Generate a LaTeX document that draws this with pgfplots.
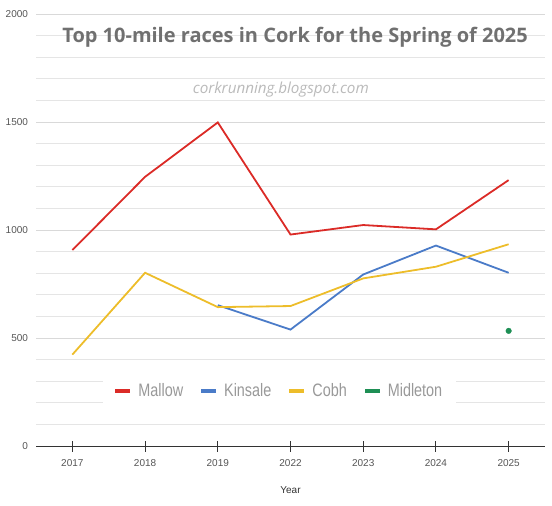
\documentclass[border=0pt]{standalone}
\usepackage{fontspec}
\setmainfont{Liberation Sans}
\newfontfamily\titlefont{Open Sans}
\newfontfamily\legendfont[FakeStretch=0.8]{Liberation Sans}
\usepackage{pgfplots}
\pgfplotsset{compat=1.18}
\usetikzlibrary{calc}
\definecolor{cMallow}{HTML}{DB2B27}
\definecolor{cKinsale}{HTML}{4A7BC8}
\definecolor{cCobh}{HTML}{EDBD2A}
\definecolor{cMidleton}{HTML}{1E8F55}
\definecolor{tickgray}{HTML}{555555}
\begin{document}
\begin{tikzpicture}
\begin{axis}[
  scale only axis,
  width=509bp, height=432bp,
  xmin=-0.5, xmax=6.5, ymin=0, ymax=2000,
  xtick={0,1,2,3,4,5,6},
  xticklabels={2017,2018,2019,2022,2023,2024,2025},
  ytick={0,500,1000,1500,2000},
  minor ytick={100,200,300,400,600,700,800,900,1100,1200,1300,1400,1600,1700,1800,1900},
  ymajorgrids, yminorgrids,
  major grid style={draw=black!15, line width=0.8bp},
  minor grid style={draw=black!10, line width=0.8bp},
  axis x line*=bottom, axis y line*=left,
  x axis line style={draw=black!80, line width=1bp, -},
  y axis line style={draw=none},
  ytick style={draw=none},
  minor y tick style={draw=none},
  xtick style={draw=black!80, line width=1bp},
  tick align=center,
  major tick length=11bp,
  /pgf/number format/assume math mode=true,
  /pgf/number format/set thousands separator={},
  ticklabel style={font=\fontsize{10bp}{12bp}\selectfont, text=tickgray},
  yticklabel style={xshift=1bp},
  xticklabel style={yshift=-4bp},
  xlabel={Year},
  xlabel style={font=\fontsize{10bp}{12bp}\selectfont, text=black!80, yshift=-14bp},
  legend columns=4,
  legend style={at={(rel axis cs:0.479,0.127)}, anchor=center, draw=none, fill=white,
    font=\legendfont\fontsize{18bp}{19bp}\selectfont, text=black!40,
    inner xsep=12bp, inner ysep=4bp,
    /tikz/every even column/.append style={column sep=16bp}},
  legend image code/.code={\fill[#1] (0bp,-2bp) rectangle (15bp,2bp); \path (21bp,0bp);},
  clip=false,
]
\addplot[cMallow, line width=1.8bp, forget plot] coordinates {
  (0,907) (1,1246) (2,1498) (3,979) (4,1023) (5,1003) (6,1231)};
\addplot[cKinsale, line width=1.8bp, forget plot] coordinates {
  (2,652) (3,539) (4,794) (5,928) (6,802)};
\addplot[cCobh, line width=1.8bp, forget plot] coordinates {
  (0,423) (1,802) (2,643) (3,648) (4,776) (5,830) (6,934)};
\addplot[only marks, mark=*, mark size=2.8bp, cMidleton, forget plot] coordinates {
  (6,533)};
\addlegendimage{fill=cMallow, draw=none}
\addlegendentry{Mallow}
\addlegendimage{fill=cKinsale, draw=none}
\addlegendentry{Kinsale}
\addlegendimage{fill=cCobh, draw=none}
\addlegendentry{Cobh}
\addlegendimage{fill=cMidleton, draw=none}
\addlegendentry{Midleton}
\node[anchor=base, text=black!56, font=\titlefont\bfseries\fontsize{20bp}{22bp}\selectfont]
  at (rel axis cs:0.509,0.933) {Top 10-mile races in Cork for the Spring of 2025};
\node[anchor=base, text=black!27, font=\titlefont\itshape\fontsize{15.2bp}{17bp}\selectfont]
  at (rel axis cs:0.481,0.817) {corkrunning.blogspot.com};
\end{axis}
\pgfresetboundingbox
\path[use as bounding box] ($(current axis.south west)+(-36bp,-59bp)$) rectangle ($(current axis.north east)+(7bp,14bp)$);
\end{tikzpicture}
\end{document}
